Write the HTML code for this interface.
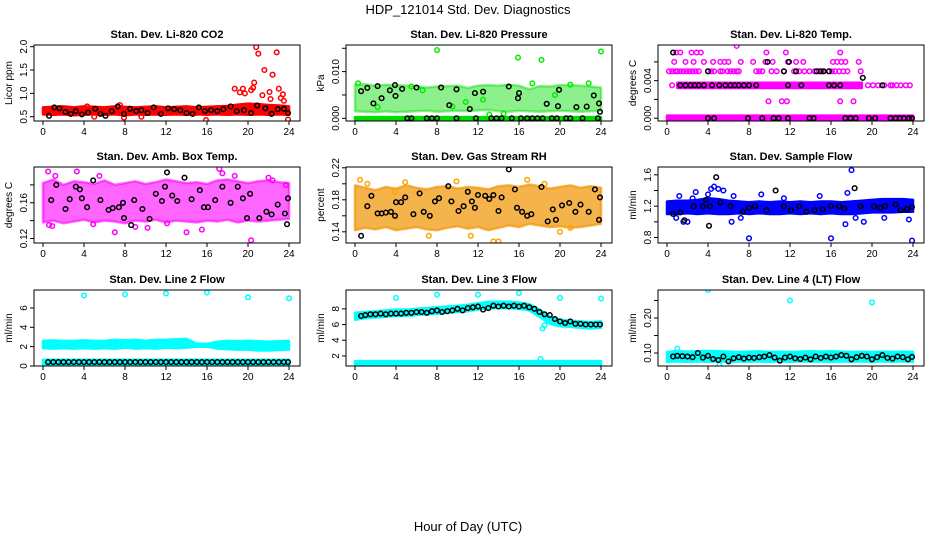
<!DOCTYPE html>
<html><head><meta charset="utf-8"><style>
html,body{margin:0;padding:0;background:#fff;}
svg{display:block;font-family:"Liberation Sans",sans-serif;}
</style></head><body>
<svg id="chart" width="936" height="540" viewBox="0 0 936 540" xmlns="http://www.w3.org/2000/svg">
<text x="468" y="14" text-anchor="middle" font-size="13">HDP_121014  Std. Dev. Diagnostics</text>
<text x="468" y="531" text-anchor="middle" font-size="13">Hour of Day (UTC)</text>
</svg>
<script>
const hours=[0,1,2,3,4,5,6,7,8,9,10,11,12,13,14,15,16,17,18,19,20,21,22,23,24];
const xTicks=[0,4,8,12,16,20,24];
// Panel 1 CO2
const co2BandLo=[0.55,0.54,0.55,0.53,0.54,0.55,0.54,0.55,0.53,0.55,0.54,0.55,0.54,0.55,0.54,0.55,0.54,0.55,0.54,0.55,0.54,0.55,0.54,0.55,0.54];
const co2BandHi=[0.70,0.71,0.72,0.70,0.72,0.71,0.70,0.72,0.71,0.70,0.71,0.72,0.70,0.71,0.72,0.70,0.71,0.72,0.73,0.76,0.78,0.77,0.75,0.74,0.72];
const co2RedX=[7.5,7.9,9.6,15.9,18.7,19.2,19.5,19.7,20.3,20.5,20.6,20.8,21.0,21.4,21.6,22.1,22.4,22.2,22.8,23.0,23.2,23.4,23.5,23.9,4.3,5.0];
const co2RedY=[0.75,0.48,0.5,0.43,1.1,1.02,1.1,1.0,1.07,1.12,1.23,1.99,1.85,0.96,1.5,1.03,1.4,0.88,1.88,1.1,0.9,0.98,0.84,0.44,0.72,0.5];
const co2BlackX=[0.6,1.1,1.6,2.2,2.7,3.2,3.8,4.4,5.1,5.6,6.1,6.7,7.3,7.9,8.5,9.1,9.6,10.2,10.8,11.5,12.2,12.8,13.4,14.0,14.6,15.2,15.8,16.4,17.0,17.6,18.3,18.9,19.6,20.3,20.9,21.7,22.3,22.9,23.5,23.9];
const co2BlackY=[0.52,0.7,0.68,0.6,0.56,0.62,0.55,0.59,0.67,0.56,0.52,0.62,0.72,0.56,0.67,0.62,0.64,0.58,0.7,0.56,0.68,0.66,0.64,0.58,0.56,0.7,0.62,0.64,0.62,0.66,0.72,0.62,0.64,0.58,0.74,0.68,0.56,0.66,0.67,0.58];
// Panel 2 pressure
const presBandLo=[0.0015,0.0014,0.0013,0.0015,0.0013,0.0014,0.0015,0.0016,0.0014,0.0015,0.0016,0.0015,0.0017,0.0018,0.0015,0.0014,0.0016,0.0015,0.0014,0.0015,0.0016,0.0015,0.0014,0.0015,0.0016];
const presBandHi=[0.0072,0.0073,0.0070,0.0072,0.0071,0.0070,0.0069,0.0066,0.0068,0.0069,0.0070,0.0065,0.0070,0.0071,0.0070,0.0072,0.0070,0.0062,0.0069,0.0068,0.0071,0.0071,0.0070,0.0068,0.0066];
const presZeroLo=[-0.00025,-0.00025,-0.00025,-0.00025,-0.00025,-0.00025,-0.00025,-0.00025,-0.00025,-0.00025,-0.00025,-0.00025,-0.00025,-0.00025,-0.00025,-0.00025,-0.00025,-0.00025,-0.00025,-0.00025,-0.00025,-0.00025,-0.00025,-0.00025,-0.00025];
const presZeroHi=[0.00025,0.00025,0.00025,0.00025,0.00025,0.00025,0.00025,0.00025,0.00025,0.00025,0.00025,0.00025,0.00025,0.00025,0.00025,0.00025,0.00025,0.00025,0.00025,0.00025,0.00025,0.00025,0.00025,0.00025,0.00025];
const presGreenX=[8,15.9,18.2,24,6.6,9.5,12.5,14.5,19.5,0.3,2.2,5.5,10.8,13.1,17.3,21.0,22.8];
const presGreenY=[0.0146,0.0130,0.0125,0.0143,0.006,0.0025,0.004,0.001,0.005,0.0075,0.0024,0.0068,0.0035,0.0008,0.0075,0.0072,0.0075];
const presBlackX=[0.6,1.2,1.8,2.2,2.6,3.4,3.9,3.95,4.6,6.0,8.4,9.2,9.9,11.2,11.7,12.5,15.0,15.9,16.0,18.7,19.8,19.9,21.6,22.6,23.3,23.8,23.9,5.1,5.5,7.0,7.5,8.0,9.9,11.8,13.3,13.8,14.3,15.3,16.2,16.8,17.3,17.8,18.3,19.2,19.7,20.6,21.0,22.2,23.7];
const presBlackY=[0.0058,0.0065,0.0032,0.0069,0.0043,0.006,0.0071,0.0048,0.0063,0.0066,0.0066,0.0028,0.0062,0.002,0.0054,0.0057,0.0068,0.0043,0.0054,0.0031,0.0026,0.0061,0.0024,0.0025,0.0049,0.0032,0.0014,0,0,0,0,0,0,0,0,0,0,0,0,0,0,0,0,0,0,0,0,0,0];
// Panel 3 temp
const tempZeroLo=[-0.00028,-0.00028,-0.00028,-0.00028,-0.00028,-0.00028,-0.00028,-0.00028,-0.00028,-0.00028,-0.00028,-0.00028,-0.00028,-0.00028,-0.00028,-0.00028,-0.00028,-0.00028,-0.00028,-0.00028,-0.00028,-0.00028,-0.00028,-0.00028,-0.00028];
const tempZeroHi=[0.00028,0.00028,0.00028,0.00028,0.00028,0.00028,0.00028,0.00028,0.00028,0.00028,0.00028,0.00028,0.00028,0.00028,0.00028,0.00028,0.00028,0.00028,0.00028,0.00028,0.00028,0.00028,0.00028,0.00028,0.00028];
const tempMidLo=[null,0.00322,0.00322,0.00322,0.00322,0.00322,0.00322,0.00322,0.00322,0.00322,0.00322,0.00322,0.00322,0.00322,0.00322,0.00322,0.00322,0.00322,0.00322,0.00322,null,null,null,null,null];
const tempMidHi=[null,0.00378,0.00378,0.00378,0.00378,0.00378,0.00378,0.00378,0.00378,0.00378,0.00378,0.00378,0.00378,0.00378,0.00378,0.00378,0.00378,0.00378,0.00378,0.00378,null,null,null,null,null];
const tempMagX=[0.2,0.5,0.8,1.0,1.3,1.6,1.9,2.2,2.5,2.8,3.1,4.0,4.3,4.6,5.2,5.4,5.9,6.2,6.5,6.8,7.0,8.7,9.0,9.3,10.2,10.7,11.4,12.4,12.9,13.4,13.9,14.4,14.8,15.2,16.1,16.4,16.8,17.2,17.6,18.9,
0.7,1.8,2.6,3.6,4.5,5.2,5.6,6.0,7.2,8.4,9.6,10.3,11.8,12.6,13.3,16.2,16.6,17.0,17.4,18.7,
0.9,1.3,2.4,2.9,3.3,9.7,11.6,16.9,6.8,
9.9,11.2,11.7,16.9,18.2,
19.6,20.1,20.6,21.2,21.8,22.0,22.4,22.8,23.3,23.7,0.5];
const tempMagY=[0.005,0.005,0.005,0.005,0.005,0.005,0.005,0.005,0.005,0.005,0.005,0.005,0.005,0.005,0.005,0.005,0.005,0.005,0.005,0.005,0.005,0.005,0.005,0.005,0.005,0.005,0.005,0.005,0.005,0.005,0.005,0.005,0.005,0.005,0.005,0.005,0.005,0.005,0.005,0.005,
0.006,0.006,0.006,0.006,0.006,0.006,0.006,0.006,0.006,0.006,0.006,0.006,0.006,0.006,0.006,0.006,0.006,0.006,0.006,0.006,
0.007,0.007,0.007,0.007,0.007,0.007,0.007,0.007,0.0077,
0.0018,0.0018,0.0018,0.0018,0.0018,
0.0035,0.0035,0.0035,0.0035,0.0035,0.0035,0.0035,0.0035,0.0035,0.0035,0.0035];
const tempBlackX=[0.6,9.8,11.9,4.0,11.4,12.6,14.6,15.0,15.3,15.8,19.1,1.3,1.8,2.3,2.7,3.1,3.6,4.4,5.1,5.7,6.2,6.6,7.0,7.5,8.0,8.7,11.8,13.1,15.8,16.3,16.9,21.0,4.0,4.6,7.9,9.3,10.4,10.9,11.8,13.9,14.3,17.4,17.9,18.4,19.7,20.3,21.8,22.3,22.7,23.1,23.6,23.9];
const tempBlackY=[0.007,0.006,0.006,0.005,0.005,0.005,0.005,0.005,0.005,0.005,0.0043,0.0035,0.0035,0.0035,0.0035,0.0035,0.0035,0.0035,0.0035,0.0035,0.0035,0.0035,0.0035,0.0035,0.0035,0.0035,0.0035,0.0035,0.0035,0.0035,0.0035,0.0035,0,0,0,0,0,0,0,0,0,0,0,0,0,0,0,0,0,0,0,0];
// Panel 4 box temp
const boxBandLo=[0.138,0.140,0.137,0.139,0.141,0.138,0.140,0.139,0.137,0.140,0.139,0.141,0.138,0.140,0.139,0.138,0.140,0.139,0.141,0.138,0.140,0.139,0.140,0.141,0.142];
const boxBandHi=[0.182,0.186,0.180,0.184,0.183,0.181,0.185,0.180,0.182,0.184,0.181,0.183,0.186,0.184,0.182,0.183,0.181,0.185,0.186,0.184,0.182,0.184,0.185,0.183,0.182];
const boxMagX=[0.5,3.3,17.2,17.5,7.0,14.0,20.3,0.6,0.9,4.9,9.0,12.1,22.0,22.4,23.7,1.2,5.5,10.2,15.5,18.7];
const boxMagY=[0.195,0.195,0.198,0.193,0.127,0.127,0.118,0.135,0.134,0.136,0.133,0.137,0.188,0.185,0.180,0.19,0.19,0.132,0.13,0.19];
const boxBlackX=[0.8,1.3,2.2,2.6,3.2,3.6,3.8,4.3,4.9,5.6,6.4,6.8,7.4,7.8,7.9,8.6,8.9,9.7,10.4,11.0,11.6,11.9,12.1,12.6,13.1,13.8,14.5,15.3,15.7,16.1,16.8,17.5,18.3,19.0,19.5,19.9,20.2,21.1,21.8,22.3,22.9,23.6,23.8,23.9];
const boxBlackY=[0.163,0.180,0.153,0.164,0.178,0.175,0.165,0.155,0.185,0.163,0.152,0.154,0.155,0.160,0.143,0.135,0.163,0.153,0.142,0.170,0.162,0.178,0.194,0.168,0.162,0.188,0.164,0.174,0.155,0.155,0.163,0.178,0.160,0.178,0.165,0.143,0.170,0.143,0.150,0.147,0.158,0.148,0.136,0.165];
// Panel 5 RH
const rhBandLo=[0.142,0.145,0.143,0.146,0.142,0.144,0.146,0.143,0.142,0.145,0.147,0.144,0.146,0.142,0.145,0.148,0.146,0.150,0.148,0.146,0.147,0.145,0.146,0.148,0.150];
const rhBandHi=[0.198,0.195,0.192,0.196,0.194,0.198,0.195,0.193,0.196,0.197,0.194,0.196,0.195,0.193,0.197,0.198,0.196,0.199,0.197,0.194,0.196,0.198,0.195,0.197,0.195];
const rhOrX=[0.5,1.2,4.9,13.5,14.0,16.8,18.5,20.0,21.0,3.9,7.2,9.9,11.3];
const rhOrY=[0.205,0.200,0.202,0.128,0.128,0.205,0.2,0.14,0.145,0.19,0.135,0.203,0.135];
const rhBlackX=[0.6,1.2,1.6,2.2,2.6,3.0,3.5,3.9,4.0,4.5,4.9,5.7,6.3,6.7,7.3,7.8,8.2,9.1,9.4,10.1,10.6,11.0,11.4,11.7,12.0,12.7,13.1,13.5,14.0,14.3,15.0,15.6,15.8,16.3,16.8,17.2,18.2,18.8,19.3,19.6,20.2,20.9,21.5,22.0,22.8,23.4,23.8,23.9];
const rhBlackY=[0.135,0.172,0.185,0.163,0.163,0.164,0.165,0.16,0.177,0.177,0.183,0.162,0.188,0.165,0.16,0.178,0.182,0.197,0.178,0.166,0.172,0.19,0.178,0.17,0.186,0.185,0.181,0.186,0.166,0.183,0.218,0.193,0.17,0.165,0.16,0.162,0.196,0.153,0.168,0.155,0.173,0.176,0.165,0.174,0.165,0.193,0.155,0.183];
// Panel 6 sample flow
const sfBandLo=[1.10,1.10,1.11,1.10,1.11,1.10,1.10,1.11,1.10,1.11,1.10,1.10,1.11,1.10,1.11,1.10,1.11,1.10,1.10,1.11,1.12,1.12,1.12,1.13,1.13];
const sfBandHi=[1.26,1.27,1.27,1.28,1.30,1.29,1.27,1.26,1.25,1.26,1.25,1.26,1.25,1.26,1.25,1.26,1.26,1.25,1.26,1.27,1.28,1.29,1.29,1.29,1.28];
const sfBlueX=[0.9,1.2,1.6,2.0,2.5,2.8,4.0,4.3,4.6,5.0,5.5,6.3,6.5,7.2,8.0,9.2,11.4,14.9,16.0,17.4,17.6,18.0,18.4,19.2,21.2,23.6,23.9];
const sfBlueY=[1.05,1.33,1.0,1.0,1.3,1.38,1.35,1.42,1.45,1.42,1.4,1.0,1.33,1.05,0.79,1.35,1.3,1.33,0.79,0.97,1.37,1.66,1.05,1.0,1.05,1.03,0.76];
const sfBlackX=[0.6,1.3,1.7,2.6,3.5,3.8,4.1,4.2,4.8,5.2,6.2,7.4,8.0,8.6,9.7,10.6,11.4,12.1,12.9,13.6,14.4,15.2,16.0,16.8,17.3,18.3,18.9,20.2,20.8,21.3,22.3,22.8,23.4,23.9];
const sfBlackY=[1.1,1.12,1.02,1.2,1.2,1.28,0.95,1.2,1.57,1.25,1.2,1.13,1.18,1.2,1.15,1.4,1.2,1.15,1.2,1.13,1.15,1.16,1.2,1.2,1.17,1.43,1.2,1.2,1.18,1.2,1.22,1.15,1.16,1.19];
// Panel 7 line 2 flow
const l2BandLo=[1.85,1.8,1.85,1.8,1.85,1.8,1.85,1.8,1.9,1.8,1.85,1.8,1.9,1.85,1.9,2.0,2.0,1.8,1.75,1.7,1.7,1.6,1.6,1.65,1.7];
const l2BandHi=[2.6,2.65,2.6,2.6,2.65,2.6,2.6,2.7,2.65,2.7,2.6,2.7,2.7,2.75,2.8,2.3,2.3,2.5,2.6,2.55,2.6,2.55,2.5,2.55,2.6];
const l2RowLo=[0.15,0.15,0.15,0.15,0.15,0.15,0.15,0.15,0.15,0.15,0.15,0.15,0.15,0.15,0.15,0.15,0.15,0.15,0.15,0.15,0.15,0.15,0.15,0.15,0.15];
const l2RowHi=[0.65,0.65,0.65,0.65,0.65,0.65,0.65,0.65,0.65,0.65,0.65,0.65,0.65,0.65,0.65,0.65,0.65,0.65,0.65,0.65,0.65,0.65,0.65,0.65,0.65];
const l2CyanX=[4,8,12,16,20,24];
const l2CyanY=[7.3,7.4,7.5,7.6,7.1,7.0];
const l2BlackX=[0.5,1.0,1.5,2.0,2.5,3.0,3.5,4.0,4.5,5.0,5.5,6.0,6.5,7.0,7.5,8.0,8.5,9.0,9.5,10.0,10.5,11.0,11.5,12.0,12.5,13.0,13.5,14.0,14.5,15.0,15.5,16.0,16.5,17.0,17.5,18.0,18.5,19.0,19.5,20.0,20.5,21.0,21.5,22.0,22.5,23.0,23.5,23.9];
const l2BlackY=[0.4,0.4,0.4,0.4,0.4,0.4,0.4,0.4,0.4,0.4,0.4,0.4,0.4,0.4,0.4,0.4,0.4,0.4,0.4,0.4,0.4,0.4,0.4,0.4,0.4,0.4,0.4,0.4,0.4,0.4,0.4,0.4,0.4,0.4,0.4,0.4,0.4,0.4,0.4,0.4,0.4,0.4,0.4,0.4,0.4,0.4,0.4,0.4];
// Panel 8 line 3 flow
const l3BandLo=[6.6,6.8,6.9,7.0,7.1,7.1,7.2,7.3,7.4,7.5,7.6,7.7,7.9,8.1,8.1,8.1,8.0,7.8,7.0,6.1,5.8,5.7,5.6,5.5,5.6];
const l3BandHi=[7.5,7.6,7.7,7.8,7.9,7.9,8.0,8.1,8.2,8.3,8.4,8.5,8.7,8.9,8.9,8.9,8.8,8.6,7.9,7.0,6.6,6.5,6.4,6.3,6.4];
const l3RowLo=[0.85,0.85,0.85,0.85,0.85,0.85,0.85,0.85,0.85,0.85,0.85,0.85,0.85,0.85,0.85,0.85,0.85,0.85,0.85,0.85,0.85,0.85,0.85,0.85,0.85];
const l3RowHi=[1.35,1.35,1.35,1.35,1.35,1.35,1.35,1.35,1.35,1.35,1.35,1.35,1.35,1.35,1.35,1.35,1.35,1.35,1.35,1.35,1.35,1.35,1.35,1.35,1.35];
const l3CyanX=[4,8,12,16,20,24,18.3,18.5,18.1];
const l3CyanY=[9.4,9.8,9.8,10.0,9.4,9.3,5.5,5.9,1.6];
const l3BlackX=[0.6,1.0,1.5,2.0,2.5,3.0,3.5,4.0,4.5,5.0,5.5,6.0,6.5,7.0,7.5,8.0,8.5,9.0,9.5,10.0,10.5,11.0,11.5,12.0,12.5,13.0,13.5,14.0,14.5,15.0,15.5,16.0,16.5,17.0,17.5,18.0,18.5,19.0,19.5,20.0,20.5,21.0,21.5,22.0,22.5,23.0,23.5,23.9];
const l3BlackY=[7.1,7.2,7.3,7.3,7.4,7.3,7.4,7.4,7.4,7.5,7.5,7.6,7.6,7.5,7.7,7.8,7.6,7.7,7.8,8.0,7.8,8.1,8.2,8.3,7.9,8.1,8.4,8.3,8.4,8.3,8.4,8.3,8.4,8.2,8.0,7.6,7.3,7.2,6.7,6.4,6.2,6.4,6.1,6.1,6.0,6.0,6.0,6.0];
// Panel 9 line 4 flow
const l4BandLo=[0.075,0.076,0.075,0.076,0.075,0.076,0.075,0.076,0.075,0.076,0.075,0.076,0.075,0.076,0.075,0.076,0.075,0.076,0.075,0.076,0.075,0.076,0.075,0.076,0.075];
const l4BandHi=[0.103,0.106,0.104,0.105,0.106,0.105,0.104,0.103,0.104,0.105,0.103,0.104,0.103,0.104,0.105,0.104,0.105,0.104,0.103,0.104,0.103,0.104,0.103,0.104,0.103];
const l4CyanX=[4,12,20,5.1,1.0];
const l4CyanY=[0.28,0.25,0.245,0.066,0.112];
const l4BlackX=l3BlackX;
const l4BlackY=[0.09,0.092,0.091,0.09,0.088,0.1,0.087,0.092,0.083,0.08,0.09,0.076,0.085,0.088,0.084,0.087,0.086,0.088,0.09,0.094,0.087,0.078,0.087,0.09,0.085,0.083,0.087,0.082,0.09,0.086,0.09,0.087,0.09,0.094,0.092,0.082,0.088,0.092,0.09,0.082,0.088,0.094,0.086,0.084,0.09,0.088,0.082,0.089];

const panels=[
 {name:'co2',title:'Stan. Dev. Li-820 CO2',ylab:'Licor ppm',col:0,row:0,ymin:0.408,ymax:2.036,ticks:[0.5,1.0,1.5,2.0],labels:['0.5','1.0','1.5','2.0'],
  bands:[[co2BandLo,co2BandHi,'#ff0000']],pts:[[co2RedX,co2RedY,'#ff0000'],[co2BlackX,co2BlackY,'#000']]},
 {name:'pressure',title:'Stan. Dev. Li-820 Pressure',ylab:'kPa',col:1,row:0,ymin:-0.00058,ymax:0.0157,ticks:[0,0.005,0.01,0.015],labels:['0.000','','0.010',''],
  bands:[[presBandLo,presBandHi,'#00dd00',0.45],[presZeroLo,presZeroHi,'#00dd00']],pts:[[presGreenX,presGreenY,'#00ee00'],[presBlackX,presBlackY,'#000']]},
 {name:'li820-temp',title:'Stan. Dev. Li-820 Temp.',ylab:'degrees C',col:2,row:0,ymin:-0.0003,ymax:0.0078,ticks:[0,0.002,0.004,0.006],labels:['0.000','','0.004',''],
  bands:[[tempZeroLo,tempZeroHi,'#ff00ff'],[tempMidLo,tempMidHi,'#ff00ff']],pts:[[tempMagX,tempMagY,'#ff00ff'],[tempBlackX,tempBlackY,'#000']]},
 {name:'box-temp',title:'Stan. Dev. Amb. Box Temp.',ylab:'degrees C',col:0,row:1,ymin:0.115,ymax:0.2,ticks:[0.12,0.14,0.16,0.18],labels:['0.12','','0.16',''],
  bands:[[boxBandLo,boxBandHi,'#ff00ff',0.6]],pts:[[boxMagX,boxMagY,'#ff00ff'],[boxBlackX,boxBlackY,'#000']]},
 {name:'gas-rh',title:'Stan. Dev. Gas Stream RH',ylab:'percent',col:1,row:1,ymin:0.126,ymax:0.221,ticks:[0.14,0.16,0.18,0.20,0.22],labels:['0.14','','0.18','','0.22'],
  bands:[[rhBandLo,rhBandHi,'#f29a10',0.75]],pts:[[rhOrX,rhOrY,'#ffa500'],[rhBlackX,rhBlackY,'#000']]},
 {name:'sample-flow',title:'Stan. Dev. Sample Flow',ylab:'ml/min',col:2,row:1,ymin:0.73,ymax:1.70,ticks:[0.8,1.0,1.2,1.4,1.6],labels:['0.8','','1.2','','1.6'],
  bands:[[sfBandLo,sfBandHi,'#0000ff']],pts:[[sfBlueX,sfBlueY,'#0000ff'],[sfBlackX,sfBlackY,'#000']]},
 {name:'line2-flow',title:'Stan. Dev. Line 2 Flow',ylab:'ml/min',col:0,row:2,ymin:0,ymax:7.86,ticks:[0,2,4,6],labels:['0','2','4','6'],
  bands:[[l2BandLo,l2BandHi,'#00ffff'],[l2RowLo,l2RowHi,'#00ffff']],pts:[[l2CyanX,l2CyanY,'#00ffff'],[l2BlackX,l2BlackY,'#000']]},
 {name:'line3-flow',title:'Stan. Dev. Line 3 Flow',ylab:'ml/min',col:1,row:2,ymin:0.72,ymax:10.4,ticks:[2,4,6,8],labels:['2','4','6','8'],
  bands:[[l3BandLo,l3BandHi,'#00ffff'],[l3RowLo,l3RowHi,'#00ffff']],pts:[[l3CyanX,l3CyanY,'#00ffff'],[l3BlackX,l3BlackY,'#000']]},
 {name:'line4-flow',title:'Stan. Dev. Line 4 (LT) Flow',ylab:'ml/min',col:2,row:2,ymin:0.063,ymax:0.28,ticks:[0.10,0.15,0.20,0.25],labels:['0.10','','0.20',''],
  bands:[[l4BandLo,l4BandHi,'#00ffff']],pts:[[l4CyanX,l4CyanY,'#00ffff'],[l4BlackX,l4BlackY,'#000']]}
];

const NS='http://www.w3.org/2000/svg';
const svg=document.getElementById('chart');
function mk(tag,attrs,parent){const e=document.createElementNS(NS,tag);for(const k in attrs)e.setAttribute(k,attrs[k]);(parent||svg).appendChild(e);return e;}
const colLeft=[34,346,658],rowTop=[45,167,290],W=266,H=76;

panels.forEach(p=>{
 const L=colLeft[p.col],T=rowTop[p.row];
 const xs=v=>L+9+v/24*246;
 const ys=v=>T+H-(v-p.ymin)/(p.ymax-p.ymin)*H;
 const g=mk('g',{});
 
 
 const clipId='clip-'+p.name;
 const cp=mk('clipPath',{id:clipId},g);mk('rect',{x:L,y:T,width:W,height:H},cp);
 const plot=mk('g',{'clip-path':'url(#'+clipId+')'},g);
 p.bands.forEach((b,bi)=>{
  const lo=b[0],hi=b[1];
  let seg=[];
  const segs=[];
  hours.forEach((h,i)=>{if(lo[i]==null){if(seg.length)segs.push(seg);seg=[];}else seg.push(i);});
  if(seg.length)segs.push(seg);
  segs.forEach(s=>{
   const top=s.map(i=>xs(hours[i]).toFixed(1)+','+ys(hi[i]).toFixed(1));
   const bot=s.slice().reverse().map(i=>xs(hours[i]).toFixed(1)+','+ys(lo[i]).toFixed(1));
   const poly=mk('polygon',{points:top.concat(bot).join(' '),fill:b[2],'fill-opacity':b[3]||1,stroke:b[2],'stroke-width':2.5,'stroke-linejoin':'round','stroke-opacity':b[3]||1},plot);
   
   
  });
 });
 p.pts.forEach(s=>{
  s[0].forEach((xv,i)=>{
   const c=mk('circle',{cx:xs(xv).toFixed(1),cy:ys(s[1][i]).toFixed(1),r:2.3,fill:'none',stroke:s[2],'stroke-width':1.5},plot);
   
   
  });
 });
 const box=mk('rect',{x:L,y:T,width:W,height:H,fill:'none',stroke:'#000','stroke-width':1},g);
 
 
 mk('line',{x1:xs(0),x2:xs(24),y1:T+H,y2:T+H,stroke:'#000'},g);
 xTicks.forEach(t=>{
  mk('line',{x1:xs(t),x2:xs(t),y1:T+H,y2:T+H+4,stroke:'#000'},g);
  const tx=mk('text',{x:xs(t),y:T+H+14,'text-anchor':'middle','font-size':10},g);tx.textContent=t;
  
  
 });
 p.ticks.forEach((t,i)=>{
  const y=ys(t);
  mk('line',{x1:L-4,x2:L,y1:y,y2:y,stroke:'#000'},g);
  if(p.labels[i]){
   const tx=mk('text',{x:L-7,y:y,'text-anchor':'middle','font-size':10,transform:'rotate(-90 '+(L-7)+' '+y+')'},g);tx.textContent=p.labels[i];
   
   
  }
 });
 const yl=mk('text',{x:L-22,y:T+H/2,'text-anchor':'middle','font-size':10,transform:'rotate(-90 '+(L-22)+' '+(T+H/2)+')'},g);
 yl.textContent=p.ylab;
 
 
 const tt=mk('text',{x:L+W/2,y:T-7,'text-anchor':'middle','font-size':11,'font-weight':'bold'},g);
 tt.textContent=p.title;
 
 
});
</script>
</body></html>
